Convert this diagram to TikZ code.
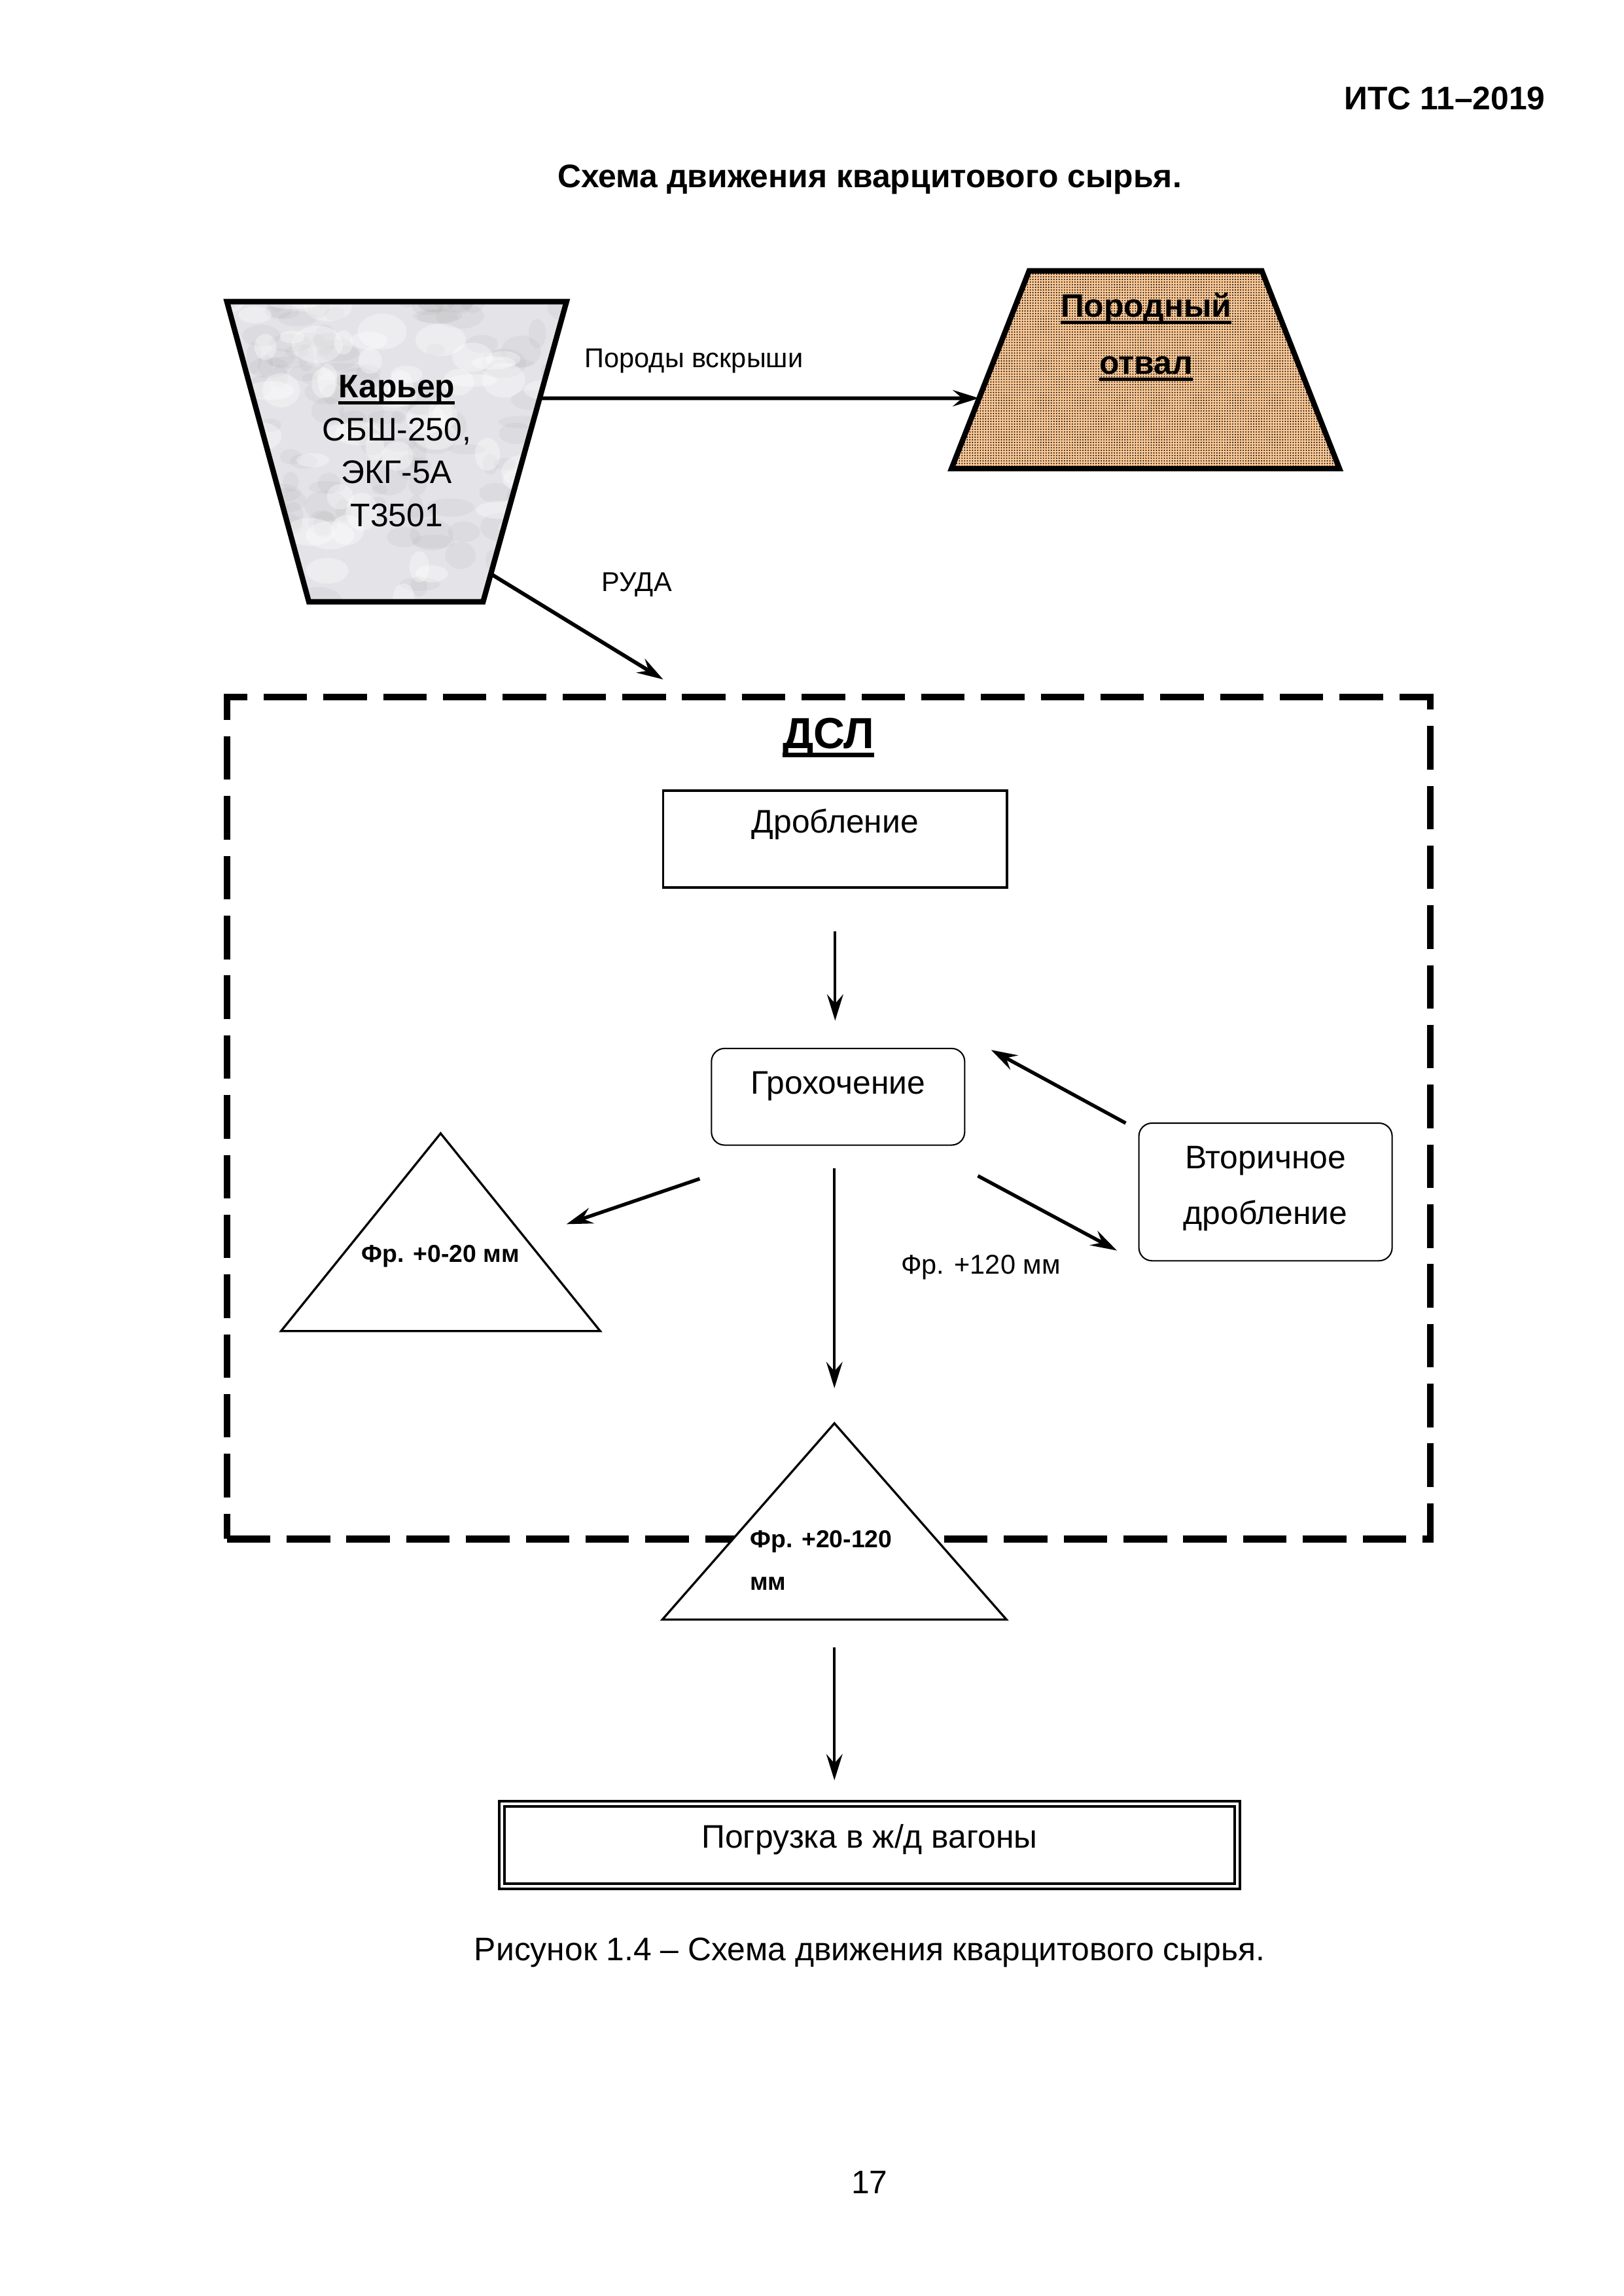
\documentclass[tikz,border=0pt]{standalone}
\usepackage{fontspec}
\setmainfont{Liberation Sans}
\usetikzlibrary{calc,arrows.meta,patterns.meta}
\definecolor{otvalfill}{RGB}{250,200,150}
\definecolor{marblefill}{RGB}{228,228,232}
\newcommand{\ulword}[1]{\setbox0=\hbox{#1}\rlap{\rule[-0.2em]{\wd0}{0.1em}}\box0}

\begin{document}
\begin{tikzpicture}[x=0.18936mm,y=-0.18936mm,
            trapline/.style={draw,line width=2pt},
            flownode/.style={draw,line width=0.9pt,inner xsep=0pt,inner ysep=0pt,outer sep=0pt,align=center,font=\fontsize{12}{20.5}\selectfont},
            roundnode/.style={flownode,line width=0.5pt,rounded corners=1.7mm},
            pilenode/.style={draw,line width=0.8pt,fill=white},
            flowarrow/.style={-{Stealth[length=3.4mm,width=2.1mm,inset=1.2mm]},line width=1pt},
            thickarrow/.style={flowarrow,line width=1.3pt},
            smalltext/.style={font=\fontsize{10}{12}\selectfont,inner sep=0pt},
            fractext/.style={font=\bfseries\fontsize{9}{15.6}\selectfont,inner sep=0pt,align=left},
            pagetext/.style={font=\fontsize{12}{14}\selectfont,inner sep=0pt}]
            \fill[white] (0,0) rectangle (1109,1568);
            \useasboundingbox (0,0) rectangle (1109,1568);

            \node[pagetext,font=\bfseries\fontsize{12}{14}\selectfont,anchor=base east] (itc) at (1056,75) {ИТС 11–2019};
            \node[pagetext,font=\bfseries\fontsize{12}{14}\selectfont,anchor=base] (title) at (594,128) {Схема движения кварцитового сырья.};

            \coordinate (k1) at (155,206);
            \coordinate (k2) at (387,206);
            \coordinate (k3) at (330,411);
            \coordinate (k4) at (211,411);
            \begin{scope}
                \clip (k1) -- (k2) -- (k3) -- (k4) -- cycle;
                \fill[marblefill] (150,200) rectangle (390,415);
                \pgfmathsetseed{11}
                \foreach \i in {1,...,140}{
                    \fill[gray,opacity=0.07] ({150+240*rnd},{200+215*rnd}) ellipse ({5+12*rnd} and {3+8*rnd});
                }
                \foreach \i in {1,...,60}{
                    \fill[white,opacity=0.35] ({150+240*rnd},{200+215*rnd}) ellipse ({6+12*rnd} and {4+9*rnd});
                }
            \end{scope}
            \draw[trapline] (k1) -- (k2) -- (k3) -- (k4) -- cycle;
            \node[align=center,inner sep=0pt,font=\fontsize{12}{15.8}\selectfont] (kar) at (271,308) {\textbf{\ulword{Карьер}}\\СБШ-250,\\ЭКГ-5А\\Т3501};

            \coordinate (o1) at (703,185);
            \coordinate (o2) at (862,185);
            \coordinate (o3) at (915,320);
            \coordinate (o4) at (650,320);
            \draw[trapline,preaction={fill=otvalfill},pattern={Dots[radius=0.09mm,distance=0.34mm]},pattern color=black] (o1) -- (o2) -- (o3) -- (o4) -- cycle;
            \node[align=center,inner sep=0pt,font=\bfseries\fontsize{12}{21}\selectfont] (otv) at (783,230) {\ulword{Породный}\\\ulword{отвал}};

            \node[smalltext,anchor=base] (vskr) at (474,251) {Породы вскрыши};
            \node[smalltext,anchor=base] (ruda) at (435,404) {РУДА};

            \node[draw,line width=2.5pt,dash pattern=on 16pt off 6pt,minimum width=155.65mm,minimum height=108.88mm,inner sep=0pt,outer sep=0pt] (dsl) at (566,763.5) {};
            \node[inner sep=0pt,font=\bfseries\fontsize{16}{18}\selectfont,anchor=base] (dsltitle) at (566,511) {\ulword{ДСЛ}};

            \node[flownode,minimum width=44.5mm,text height=5.49mm,text depth=7.01mm] (drob) at (570.5,573) {Дробление};
            \node[roundnode,minimum width=32.76mm,text height=5.87mm,text depth=6.63mm] (groh) at (572.5,749) {Грохочение};
            \node[roundnode,minimum width=32.76mm,text height=13.07mm,text depth=4.73mm] (vtor) at (864.5,814) {Вторичное\\дробление};

            \coordinate (tri1) at (301,774);
            \draw[pilenode] (tri1) -- ++(109,135) -- ++(-218,0) -- cycle;
            \node[fractext,anchor=base] (fr1) at (301,862) {Фр. +0-20 мм};
            \coordinate (tri2) at (570,972);
            \draw[pilenode] (tri2) -- ++(117.5,134) -- ++(-235,0) -- cycle;
            \node[fractext,anchor=base west] (fr2) at (512,1086) {Фр. +20-120\\мм};
            \node[smalltext,anchor=base] (fr3) at (670,870) {Фр. +120 мм};

            \node[flownode,double,line width=1.1pt,double distance=0.8pt,minimum width=95.14mm,text height=5.72mm,text depth=4.96mm] (pogr) at (594,1260) {Погрузка в ж/д вагоны};

            \node[pagetext,anchor=base] (caption) at (594,1339) {Рисунок 1.4 – Схема движения кварцитового сырья.};
            \node[pagetext,anchor=base] (pagenum) at (594,1498) {17};

            \draw[thickarrow,line width=1.4pt] ($(k2)!0.322!(k3)$) -- ($(o1)!0.644!(o4)$);
            \draw[thickarrow,line width=1.4pt] ($(k2)!0.907!(k3)$) -- ([shift={(-113,-12)}]dsl.north);
            \draw[flowarrow] ([shift={(0,30)}]drob.south) -- ([shift={(-2,-19)}]groh.north);
            \draw[thickarrow] ([shift={(-8,23)}]groh.south west) -- ([shift={(86,62)}]tri1);
            \draw[flowarrow] ([shift={(-2.5,16)}]groh.south) -- ([shift={(0,-24)}]tri2);
            \draw[thickarrow] ([shift={(9,21)}]groh.south east) -- ([shift={(-15,-7)}]vtor.south west);
            \draw[thickarrow] ([shift={(-9,0)}]vtor.north west) -- ([shift={(18,1)}]groh.north east);
            \draw[flowarrow] ([shift={(0,153)}]tri2) -- ([shift={(-24,-16)}]pogr.north);
        \end{tikzpicture}
\end{document}
